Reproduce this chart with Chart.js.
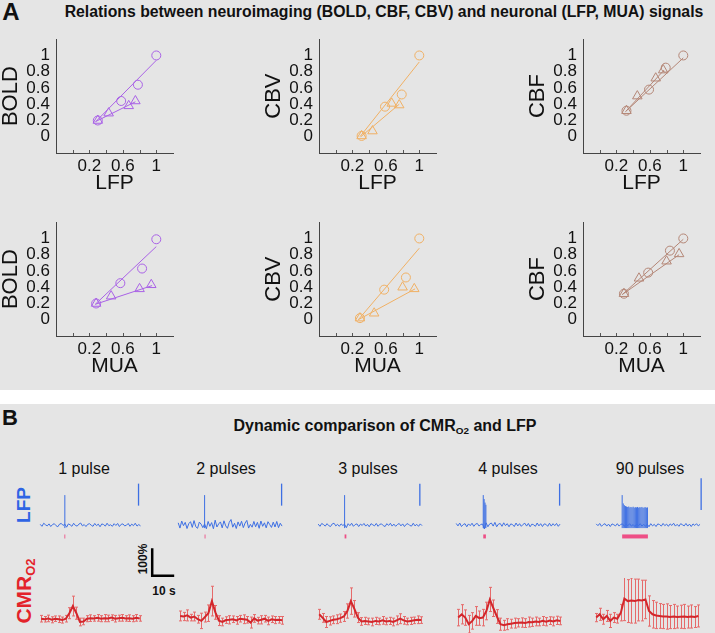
<!DOCTYPE html>
<html>
<head>
<meta charset="utf-8">
<script src="https://cdn.jsdelivr.net/npm/chart.js@4.4.1/dist/chart.umd.min.js"></script>
<style>
  html, body { margin: 0; padding: 0; }
  body {
    width: 715px; height: 633px; position: relative; overflow: hidden;
    background: #e5e5e5; color: #111;
    font-family: "Liberation Sans", Arial, sans-serif;
  }
  .band { position: absolute; left: 0; top: 390px; width: 715px; height: 14px; background: #fff; }
  canvas { position: absolute; }
  .lbl { position: absolute; white-space: nowrap; transform: translate(-50%, -50%); line-height: 1; }
  .rot { transform: translate(-50%, -50%) rotate(-90deg); }
  sub { font-size: 0.62em; vertical-align: -0.3em; }
</style>
</head>
<body>
<div class="band"></div>

<div class="lbl" style="left:11px;top:12px;font-weight:bold;font-size:24px;">A</div>
<div class="lbl" style="left:384px;top:12px;font-weight:bold;font-size:15.8px;">Relations between neuroimaging (BOLD, CBF, CBV) and neuronal (LFP, MUA) signals</div>

<div class="lbl" style="left:10px;top:418px;font-weight:bold;font-size:22px;">B</div>
<div class="lbl" style="left:385px;top:427px;font-weight:bold;font-size:16px;">Dynamic comparison of CMR<sub>O2</sub> and LFP</div>

<div id="colTitles"></div>

<div class="lbl rot" style="left:23px;top:505px;font-weight:bold;font-size:19px;color:#2f64e4;">LFP</div>
<div class="lbl rot" style="left:25px;top:591px;font-weight:bold;font-size:21px;color:#e3232a;">CMR<sub>O2</sub></div>

<div class="lbl rot" style="left:143px;top:559px;font-weight:bold;font-size:12px;">100%</div>
<div class="lbl" style="left:164px;top:591px;font-weight:bold;font-size:12px;">10 s</div>

<script>
// ---------- Panel A: normalized amplitudes ----------
const yTickVals = [0, 0.2, 0.4, 0.6, 0.8, 1];
const yTickLabels = ['0', '0.2', '0.4', '0.6', '0.8', '1'];
const xTickVals = [0.2, 0.6, 1];
const xTickLabels = ['0.2', '0.6', '1'];
const xMinorTicks = [0, 0.2, 0.4, 0.6, 0.8, 1];

const boldLfpCircles = [[0.30, 0.20], [0.58, 0.44], [0.78, 0.64], [1.00, 1.00]];
const boldLfpTriangles = [[0.30, 0.20], [0.43, 0.29], [0.67, 0.38], [0.75, 0.44]];
const boldLfpCircleFit = [[0.27, 0.18], [1.00, 0.94]];
const boldLfpTriangleFit = [[0.28, 0.19], [0.75, 0.43]];

const cbvLfpCircles = [[0.31, 0.01], [0.59, 0.37], [0.79, 0.52], [1.00, 1.00]];
const cbvLfpTriangles = [[0.31, 0.01], [0.44, 0.07], [0.67, 0.41], [0.76, 0.39]];
const cbvLfpCircleFit = [[0.29, 0.00], [1.00, 0.92]];
const cbvLfpTriangleFit = [[0.30, 0.00], [0.76, 0.40]];

const cbfLfpCircles = [[0.32, 0.32], [0.59, 0.58], [0.79, 0.85], [1.00, 1.00]];
const cbfLfpTriangles = [[0.32, 0.32], [0.45, 0.50], [0.67, 0.72], [0.76, 0.82]];
const cbfLfpCircleFit = [[0.31, 0.31], [1.00, 0.97]];
const cbfLfpTriangleFit = [[0.31, 0.31], [0.77, 0.82]];

const boldMuaCircles = [[0.28, 0.20], [0.57, 0.45], [0.83, 0.63], [1.00, 0.99]];
const boldMuaTriangles = [[0.28, 0.20], [0.46, 0.29], [0.80, 0.38], [0.94, 0.43]];
const boldMuaCircleFit = [[0.27, 0.19], [1.00, 0.90]];
const boldMuaTriangleFit = [[0.27, 0.19], [0.95, 0.42]];

const cbvMuaCircles = [[0.29, 0.02], [0.58, 0.37], [0.84, 0.52], [1.00, 1.00]];
const cbvMuaTriangles = [[0.29, 0.02], [0.46, 0.08], [0.80, 0.40], [0.94, 0.38]];
const cbvMuaCircleFit = [[0.27, 0.00], [1.00, 0.88]];
const cbvMuaTriangleFit = [[0.27, 0.00], [0.95, 0.38]];

const cbfMuaCircles = [[0.29, 0.32], [0.58, 0.58], [0.84, 0.85], [1.00, 1.00]];
const cbfMuaTriangles = [[0.29, 0.32], [0.47, 0.51], [0.80, 0.72], [0.95, 0.81]];
const cbfMuaCircleFit = [[0.27, 0.31], [1.00, 0.99]];
const cbfMuaTriangleFit = [[0.27, 0.31], [0.95, 0.80]];

// ---------- Panel B: time courses ----------
const pulseLabels = ['1 pulse', '2 pulses', '3 pulses', '4 pulses', '90 pulses'];
const lfpDt = 0.8;   // s per sample
const cmrDt = 1.6;   // s per sample

// LFP background activity
const lfp1 = [0.03,-0.06,0.08,0.01,-0.04,0.05,-0.07,0.02,0.06,-0.03,-0.08,0.04,0.07,-0.02,0.04,-0.10,
  0.05,0.01,-0.06,0.08,-0.02,-0.05,0.04,0.09,-0.04,0.02,-0.07,0.03,0.06,-0.01,-0.06,0.07,-0.03,0.04,-0.08,0.05,
  0.02,-0.05,0.08,-0.03,0.01,-0.06,0.06,-0.02,0.07,-0.07,0.03,0.05,-0.04,-0.01,0.07,-0.06,0.04,-0.03,0.08,-0.05,0.02,-0.04];
const lfp2 = [0.10,-0.14,0.18,-0.03,0.12,-0.16,0.06,0.15,-0.11,0.20,-0.08,-0.15,0.13,0.04,-0.12,0.05,-0.17,
  0.16,-0.06,0.11,-0.17,0.22,-0.09,0.05,0.14,-0.13,0.19,-0.04,-0.15,0.12,0.25,-0.10,0.08,-0.16,0.14,-0.05,0.17,
  -0.12,0.09,0.21,-0.14,0.03,-0.10,0.16,-0.08,0.12,-0.15,0.18,-0.06,0.10,-0.13,0.15,0.02,-0.11,0.13,-0.09,0.16,-0.12,0.08,-0.05];
const lfp3 = [0.04,-0.06,0.07,0.02,-0.05,0.06,-0.03,-0.07,0.05,0.08,-0.04,0.03,-0.06,0.05,-0.02,0.03,-0.12,
  0.06,-0.03,0.08,-0.06,0.02,0.05,-0.07,0.04,-0.02,0.07,-0.05,0.03,-0.08,0.06,0.01,-0.04,0.07,-0.06,0.03,0.05,
  -0.03,-0.07,0.06,-0.02,0.08,-0.05,0.04,-0.06,0.02,0.07,-0.04,0.05,-0.07,0.03,0.06,-0.02,-0.05,0.08,-0.04,0.03,-0.06,0.05,-0.03];
const lfp4 = [0.07,-0.04,0.09,-0.07,0.02,0.06,-0.08,0.05,-0.03,0.08,-0.06,0.04,0.07,-0.05,0.03,
  0.04,-0.18,0.10,-0.08,0.05,
  0.09,-0.05,0.12,-0.08,0.04,0.07,-0.06,0.10,-0.03,0.06,-0.08,0.05,0.02,-0.07,0.09,-0.04,0.06,-0.06,0.03,0.08,
  -0.05,0.07,-0.08,0.04,0.01,-0.06,0.09,-0.04,0.06,-0.07,0.05,0.03,-0.06,0.08,-0.05,0.06,-0.03,0.07,-0.06,0.04];
const lfp5 = [0.05,-0.03,0.07,-0.06,0.02,0.06,-0.05,0.04,-0.07,0.05,0.01,-0.04,0.06,-0.05,0.03,
  0.05,-0.06,0.04,-0.03,0.06,-0.05,0.02,-0.07,0.05,-0.04,0.06,-0.05,0.03,-0.06,0.04,-0.08,
  0.06,-0.04,0.03,-0.07,0.05,0.02,-0.05,0.07,-0.03,0.04,-0.06,0.05,-0.02,0.08,-0.05,0.03,-0.06,0.06,0.01,-0.04,
  0.07,-0.05,0.04,-0.07,0.05,-0.02,0.06,-0.04,0.03];

// evoked LFP responses: [time s, peak]
const evoked1 = [[11.2, 1.36]];
const evoked2 = [[12.0, 1.36]];
const evoked3 = [[12.0, 1.36]];
const evoked4 = [[12.3, 1.36], [12.7, 1.18], [13.1, 1.02], [13.5, 0.92]];
const evoked5 = [[11.8, 1.36], [12.3, 0.98], [12.8, 0.90], [13.3, 0.86], [13.8, 0.84], [14.3, 0.82],
  [14.8, 0.84], [15.3, 0.80], [15.8, 0.82], [16.3, 0.80], [16.8, 0.83], [17.3, 0.79], [17.8, 0.81],
  [18.3, 0.80], [18.8, 0.82], [19.3, 0.79], [19.8, 0.81], [20.3, 0.80], [20.8, 0.82], [21.3, 0.78],
  [21.8, 0.80], [22.3, 0.81], [22.8, 0.79], [23.3, 0.80]];
const evokedTrough = -0.14;

// stimulus on/off (s) and LFP amplitude scale bar (units)
const stimOn  = [11.0, 12.0, 12.0, 12.3, 11.8];
const stimOff = [11.4, 12.4, 12.8, 13.5, 23.5];
const lfpBarTime = [44.7, 47.0, 46.2, 47.0, 47.7];
const lfpBarLo = [0.88, 0.88, 0.88, 0.88, 0.68];
const lfpBarHi = [1.88, 1.88, 1.88, 1.88, 2.12];

// CMRO2 change (%) and error
const cmr1 = [2,0,3,-2,2,0,-3,2,22,48, 22,-10,-8,2,4,3,5,2,4,3, 6,2,4,5,3,4,2,5,3];
const cmr1Err = [12,10,12,11,10,12,11,12,20,36, 22,14,12,11,12,10,12,11,13,12, 10,12,11,12,10,12,11,12,10];
const cmr2 = [12,10,14,6,10,0,-6,8,22,66, 25,-5,-10,-3,-2,0,-4,2,0,-2, -12,3,-5,-2,2,-6,0,-3,-2,-4];
const cmr2Err = [18,15,20,12,16,14,28,18,30,54, 25,18,14,12,15,12,14,12,16,12, 20,14,12,15,12,14,12,13,12,14];
const cmr3 = [18,5,-10,-6,-2,0,4,10,30,66, 38,6,-8,-6,-8,-10,-6,-8,-4,-8, -6,-10,-4,2,-4,-8,-6,-4,-2,-3];
const cmr3Err = [18,16,20,15,14,16,15,18,26,48, 30,18,14,13,12,14,13,12,14,12, 13,14,16,18,14,12,13,12,14,12];
const cmr4 = [6,18,6,-18,-6,12,4,6,30,72, 40,10,-18,-22,-18,-16,-14,-13,-12,-14, -10,-11,-8,-10,-6,-9,-5,-8,-4,-6];
const cmr4Err = [30,35,28,32,30,34,26,30,32,44, 30,25,22,18,20,16,18,15,17,16, 18,15,16,14,16,15,14,16,15,14];
const cmr5 = [6,18,0,12,-6,6,2,24,75,66, 68,66,70,68,72,30,18,14,12,10, 10,8,10,8,9,10,8,10,8,12];
const cmr5Err = [15,22,18,20,24,18,16,30,80,78, 82,80,76,74,70,55,50,48,45,44, 46,42,44,40,42,44,40,42,38,40];

const scaleBarSec = 10;
const scaleBarPct = 100;

// ---------- helpers ----------
Chart.defaults.font.family = '"Liberation Sans", Arial, sans-serif';
Chart.defaults.color = '#111';

function makeCanvas(left, top, w, h) {
  const c = document.createElement('canvas');
  c.width = w; c.height = h;
  c.style.left = left + 'px'; c.style.top = top + 'px';
  c.style.width = w + 'px'; c.style.height = h + 'px';
  document.body.appendChild(c);
  return c;
}

const toPts = arr => arr.map(p => ({ x: p[0], y: p[1] }));
const series = (arr, dt) => arr.map((v, i) => ({ x: i * dt, y: v }));
// vertical strokes separated by gaps
const strokes = (list, lo) => list.flatMap(([t, hi]) => [{ x: t, y: lo }, { x: t, y: hi }, { x: t, y: NaN }]);

const baseOpts = {
  responsive: false,
  animation: false,
  devicePixelRatio: 1,
  plugins: { legend: { display: false }, tooltip: { enabled: false } }
};

// small inward tick marks on x axis (matlab style)
const inwardTicks = {
  id: 'inwardTicks',
  afterDraw(chart) {
    const { ctx } = chart;
    const x = chart.scales.x;
    ctx.save();
    ctx.strokeStyle = '#555';
    ctx.lineWidth = 1;
    ctx.beginPath();
    xMinorTicks.forEach(v => {
      const px = Math.round(x.getPixelForValue(v)) + 0.5;
      ctx.moveTo(px, x.top);
      ctx.lineTo(px, x.top - 3);
    });
    ctx.stroke();
    ctx.restore();
  }
};

function scatterPlot(left, top, yTitle, xTitle, color, circles, triangles, circleFit, triangleFit) {
  const cv = makeCanvas(left, top, 183, 175);
  new Chart(cv, {
    type: 'scatter',
    data: {
      datasets: [
        { data: toPts(circleFit), showLine: true, borderColor: color, borderWidth: 1, pointRadius: 0 },
        { data: toPts(triangleFit), showLine: true, borderColor: color, borderWidth: 1, pointRadius: 0 },
        { data: toPts(circles), pointStyle: 'circle', pointRadius: 4.5, borderColor: color,
          backgroundColor: 'rgba(0,0,0,0)', pointBorderWidth: 1 },
        { data: toPts(triangles), pointStyle: 'triangle', pointRadius: 5.5, borderColor: color,
          backgroundColor: 'rgba(0,0,0,0)', pointBorderWidth: 1 }
      ]
    },
    options: {
      ...baseOpts,
      layout: { padding: { top: 12, right: 10, left: 0, bottom: 0 } },
      scales: {
        x: {
          type: 'linear', min: -0.2, max: 1.2,
          grid: { display: false, drawTicks: false },
          border: { display: true, color: '#444', width: 1 },
          afterBuildTicks: s => { s.ticks = xTickVals.map(v => ({ value: v })); },
          afterFit: s => { s.height = 45; },
          ticks: {
            autoSkip: false, maxRotation: 0, padding: 3, color: '#111', font: { size: 17 },
            callback: v => xTickLabels[xTickVals.findIndex(t => Math.abs(t - v) < 1e-6)]
          },
          title: { display: true, text: xTitle, color: '#111', font: { size: 21, lineHeight: 1 },
                   padding: { top: 0, bottom: 4 } }
        },
        y: {
          type: 'linear', min: -0.2, max: 1.2,
          grid: { display: false, drawTicks: false },
          border: { display: true, color: '#444', width: 1 },
          afterBuildTicks: s => { s.ticks = yTickVals.map(v => ({ value: v })); },
          afterFit: s => { s.width = 56; },
          ticks: {
            autoSkip: false, padding: 6, color: '#111', font: { size: 17 },
            callback: v => yTickLabels[yTickVals.findIndex(t => Math.abs(t - v) < 1e-6)]
          },
          title: { display: true, text: yTitle, color: '#111', font: { size: 22, lineHeight: 1 },
                   padding: { top: 0, bottom: 0 } }
        }
      }
    },
    plugins: [inwardTicks]
  });
}

const boldColor = '#a962e6';
const cbvColor = '#f0b064';
const cbfColor = '#b48676';

scatterPlot(0, 23, 'BOLD', 'LFP', boldColor, boldLfpCircles, boldLfpTriangles, boldLfpCircleFit, boldLfpTriangleFit);
scatterPlot(263, 23, 'CBV', 'LFP', cbvColor, cbvLfpCircles, cbvLfpTriangles, cbvLfpCircleFit, cbvLfpTriangleFit);
scatterPlot(527, 23, 'CBF', 'LFP', cbfColor, cbfLfpCircles, cbfLfpTriangles, cbfLfpCircleFit, cbfLfpTriangleFit);
scatterPlot(0, 206, 'BOLD', 'MUA', boldColor, boldMuaCircles, boldMuaTriangles, boldMuaCircleFit, boldMuaTriangleFit);
scatterPlot(263, 206, 'CBV', 'MUA', cbvColor, cbvMuaCircles, cbvMuaTriangles, cbvMuaCircleFit, cbvMuaTriangleFit);
scatterPlot(527, 206, 'CBF', 'MUA', cbfColor, cbfMuaCircles, cbfMuaTriangles, cbfMuaCircleFit, cbfMuaTriangleFit);

// ---------- Panel B ----------
const colCenters = [84, 226, 368, 508, 650];
const titles = document.getElementById('colTitles');
pulseLabels.forEach((t, i) => {
  const d = document.createElement('div');
  d.className = 'lbl';
  d.style.left = colCenters[i] + 'px';
  d.style.top = '469px';
  d.style.fontSize = '16px';
  d.textContent = t;
  titles.appendChild(d);
});

const hiddenScales = (xmin, xmax, ymin, ymax) => ({
  x: { type: 'linear', min: xmin, max: xmax, display: false },
  y: { type: 'linear', min: ymin, max: ymax, display: false }
});

const lfpTraces = [lfp1, lfp2, lfp3, lfp4, lfp5];
const evokedAll = [evoked1, evoked2, evoked3, evoked4, evoked5];
const lfpLeft = [38, 176, 316, 454, 594];
const lfpColor = '#3d6fe3';
const stimColor = '#ee4f86';

lfpTraces.forEach((tr, i) => {
  const cv = makeCanvas(lfpLeft[i], 437, 110, 110);
  new Chart(cv, {
    type: 'line',
    data: {
      datasets: [
        { data: series(tr, lfpDt), borderColor: lfpColor, borderWidth: 1, pointRadius: 0, tension: 0 },
        { data: strokes(evokedAll[i], evokedTrough), borderColor: lfpColor, borderWidth: 1,
          pointRadius: 0, spanGaps: false },
        { data: [{ x: lfpBarTime[i], y: lfpBarLo[i] }, { x: lfpBarTime[i], y: lfpBarHi[i] }],
          borderColor: lfpColor, borderWidth: 1.3, pointRadius: 0 },
        { data: [{ x: stimOn[i], y: -0.52 }, { x: stimOff[i], y: -0.52 }],
          borderColor: stimColor, borderWidth: 4, pointRadius: 0, borderCapStyle: 'butt' }
      ]
    },
    options: { ...baseOpts, layout: { padding: 0 }, scales: hiddenScales(-1, 49, -1, 4) }
  });
});

// error bars drawn through the chart scales
const errorBars = {
  id: 'errorBars',
  beforeDatasetsDraw(chart) {
    const { ctx } = chart;
    const xs = chart.scales.x, ys = chart.scales.y;
    chart.data.datasets.forEach(ds => {
      if (!ds.errors) return;
      ctx.save();
      ctx.strokeStyle = '#e66a6a';
      ctx.lineWidth = 1;
      ctx.beginPath();
      ds.data.forEach((p, i) => {
        const px = Math.round(xs.getPixelForValue(p.x)) + 0.5;
        const y1 = ys.getPixelForValue(p.y + ds.errors[i]);
        const y2 = ys.getPixelForValue(p.y - ds.errors[i]);
        ctx.moveTo(px, y1); ctx.lineTo(px, y2);
        ctx.moveTo(px - 1.5, y1); ctx.lineTo(px + 1.5, y1);
        ctx.moveTo(px - 1.5, y2); ctx.lineTo(px + 1.5, y2);
      });
      ctx.stroke();
      ctx.restore();
    });
  }
};

const cmrTraces = [cmr1, cmr2, cmr3, cmr4, cmr5];
const cmrErrs = [cmr1Err, cmr2Err, cmr3Err, cmr4Err, cmr5Err];
const cmrLeft = [39, 178, 317, 456, 594];

cmrTraces.forEach((tr, i) => {
  const cv = makeCanvas(cmrLeft[i], 578, 110, 55);
  new Chart(cv, {
    type: 'line',
    data: {
      datasets: [
        { data: series(tr, cmrDt), errors: cmrErrs[i], borderColor: '#d3262b', borderWidth: 2,
          pointRadius: 0, tension: 0, clip: false }
      ]
    },
    options: { ...baseOpts, layout: { padding: 0 }, scales: hiddenScales(-1, 49, -50, 150) },
    plugins: [errorBars]
  });
});

// scale bar: 10 s x 100 %
const sbCanvas = makeCanvas(150, 544, 33, 36);
new Chart(sbCanvas, {
  type: 'line',
  data: {
    datasets: [{
      data: [{ x: 0, y: scaleBarPct }, { x: 0, y: 0 }, { x: scaleBarSec, y: 0 }],
      borderColor: '#000', borderWidth: 2.5, pointRadius: 0, borderJoinStyle: 'miter',
      borderCapStyle: 'butt', clip: false
    }]
  },
  options: { ...baseOpts, layout: { padding: 0 }, scales: hiddenScales(-1, 14, -15, 115) }
});
</script>
</body>
</html>
